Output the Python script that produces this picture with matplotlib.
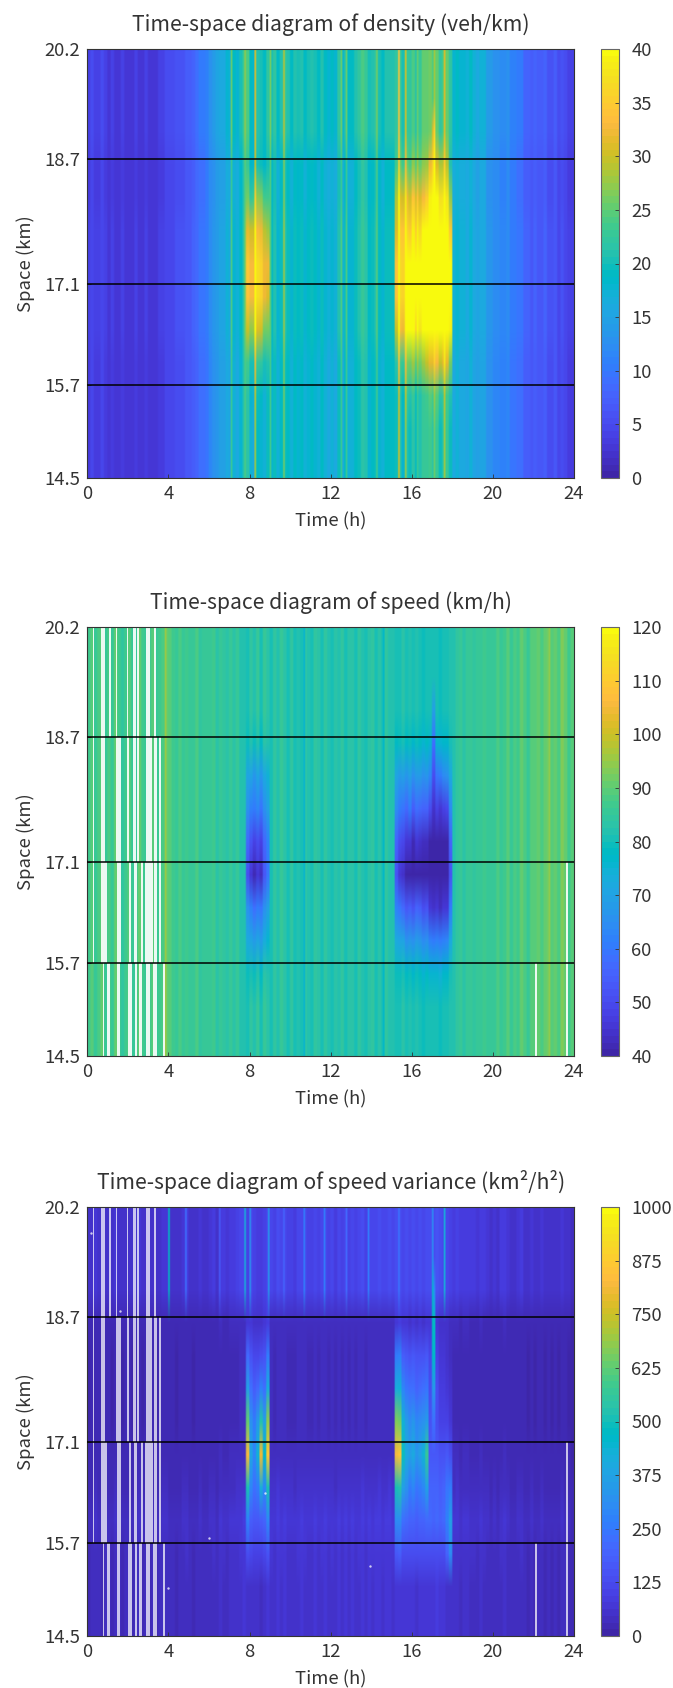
import numpy as np
import matplotlib
matplotlib.use("Agg")
import matplotlib.pyplot as plt
from matplotlib.colors import ListedColormap

plt.rcParams['font.family'] = ['Noto Sans CJK JP', 'DejaVu Sans']

PARULA = ListedColormap([
 (0.2422,0.1504,0.6603),(0.2504,0.1650,0.7076),(0.2578,0.1818,0.7511),(0.2647,0.1978,0.7952),
 (0.2706,0.2147,0.8364),(0.2751,0.2342,0.8710),(0.2783,0.2559,0.8991),(0.2803,0.2782,0.9221),
 (0.2813,0.3006,0.9414),(0.2810,0.3228,0.9579),(0.2795,0.3447,0.9717),(0.2760,0.3667,0.9829),
 (0.2699,0.3892,0.9906),(0.2602,0.4123,0.9952),(0.2440,0.4358,0.9988),(0.2206,0.4603,0.9973),
 (0.1963,0.4847,0.9892),(0.1834,0.5074,0.9798),(0.1786,0.5289,0.9682),(0.1764,0.5499,0.9520),
 (0.1687,0.5703,0.9359),(0.1540,0.5902,0.9218),(0.1460,0.6091,0.9079),(0.1380,0.6276,0.8973),
 (0.1248,0.6459,0.8883),(0.1113,0.6635,0.8763),(0.0952,0.6798,0.8598),(0.0689,0.6948,0.8394),
 (0.0297,0.7082,0.8163),(0.0036,0.7203,0.7917),(0.0067,0.7312,0.7660),(0.0433,0.7411,0.7394),
 (0.0964,0.7500,0.7120),(0.1408,0.7584,0.6842),(0.1717,0.7670,0.6554),(0.1938,0.7758,0.6251),
 (0.2161,0.7843,0.5923),(0.2470,0.7918,0.5567),(0.2906,0.7973,0.5188),(0.3406,0.8008,0.4789),
 (0.3909,0.8029,0.4354),(0.4456,0.8024,0.3909),(0.5044,0.7993,0.3480),(0.5616,0.7942,0.3045),
 (0.6174,0.7876,0.2612),(0.6720,0.7793,0.2227),(0.7242,0.7698,0.1910),(0.7738,0.7598,0.1646),
 (0.8203,0.7498,0.1535),(0.8634,0.7406,0.1596),(0.9035,0.7330,0.1774),(0.9393,0.7288,0.2100),
 (0.9728,0.7298,0.2394),(0.9956,0.7434,0.2371),(0.9970,0.7659,0.2199),(0.9952,0.7861,0.1991),
 (0.9892,0.8086,0.1817),(0.9786,0.8297,0.1644),(0.9676,0.8518,0.1487),(0.9610,0.8741,0.1347),
 (0.9597,0.8969,0.1153),(0.9628,0.9206,0.0954),(0.9691,0.9466,0.0696),(0.9763,0.9831,0.0538)])

# background per 10-minute column, hour by hour
density_bg = [
 4,5,4,4,5,4, 3,4,3,3,4,3, 3,3,4,3,3,4, 3,3,3,4,4,5, 5,5,6,6,6,7, 7,8,9,10,10,11,
 13,14,15,16,16,18, 17,19,18,20,23,24, 19,18,21,20,19,22, 20,22,19,21,22,21,
 19,21,20,21,19,20, 21,20,19,21,19,18, 19,18,22,18,21,19, 19,21,22,24,23,20,
 21,22,20,19,21,21, 21,22,23,20,23,22, 24,21,23,25,25,26, 24,25,22,24,25,22,
 18,19,18,18,17,19, 17,16,17,17,14,14, 13,13,12,12,13,11, 11,10,10,8,8,7,
 8,7,7,8,6,6, 7,5,6,5,4,4]
density_spikes = [(7.1,25),(7.75,27),(8.33,31),(9.0,26),(9.67,29),(12.5,25),(12.77,25),(14.3,26),
                  (15.35,34),(15.72,30),(16.3,25),(17.15,28),(17.6,31)]
speed_bg = [
 87,89,85,88,90,86, 88,85,90,87,84,87, 89,86,85,90,87,85, 87,89,85,87,88,90,
 89,87,85,88,86,87, 86,85,88,84,86,85, 85,87,83,85,84,83, 85,83,86,82,82,81,
 84,82,85,81,85,83, 81,84,82,85,83,81, 84,80,82,80,84,82, 81,84,83,80,84,82,
 81,83,82,84,81,83, 83,81,84,82,81,83, 84,81,83,81,84,82, 82,80,81,83,81,82,
 80,82,81,79,81,80, 80,81,79,81,80,82, 82,84,85,83,85,86, 84,86,85,87,85,85,
 86,88,85,87,89,86, 88,87,90,88,86,89, 89,91,88,90,92,89, 91,88,93,90,87,89]
speed_spikes = [(3.9,96),(10.7,76),(14.6,77),(22.8,94)]
variance_bg = [
 50,60,70,60,50,60, 60,50,70,60,50,60, 60,50,60,70,50,60, 50,60,50,60,70,70,
 60,60,50,60,70,80, 60,50,60,70,60,60, 70,80,60,90,80,70, 90,90,100,110,120,100,
 110,100,90,80,100,120, 110,100,130,110,120,100, 100,90,110,120,110,100, 100,120,100,110,120,100,
 110,90,120,100,120,100, 120,100,110,130,100,120, 110,120,130,110,120,130, 110,130,140,120,130,120,
 130,110,130,120,130,140, 140,150,130,120,110,100, 90,100,80,90,90,80, 80,70,90,80,70,60,
 70,60,80,90,70,60, 60,70,80,60,50,70, 50,60,70,50,60,50, 60,50,70,60,50,40]
variance_spikes_top = [(4.03,480),(4.87,220),(6.5,160),(7.75,420),(8.05,320),(8.97,330),(9.7,200),
                       (10.7,260),(11.7,260),(12.8,210),(13.85,260),(15.4,240),(17.0,300),(17.6,420)]

# share of the background seen at each space row, bottom (14.5) to top (20.2)
density_rows = [.90,.90,.90,.90,.95,.95,.95,.95,.92,.92,1,1,1]
speed_rows = [1,1,1,1,1,1,1,1,1,1,1,1,1]
variance_rows = [.55,.55,.6,.7,.5,.35,.3,.3,.3,.35,1,1,1]

# congestion, added at rows 2..10 (from 15.45 up to 19.25)
density_am = [
 [0,1,1,1,1,0,0],[2,3,4,4,4,3,1],[7,9,11,11,11,8,5],[11,15,16,17,17,14,10],
 [12,15,16,17,17,14,11],[9,12,13,13,13,11,7],[4,5,7,8,8,6,3],[1,1,1,1,1,1,0],[0,0,0,0,0,0,0]]
speed_am = [
 [-2,-3,-3,-3,-3,-2,-1],[-9,-13,-14,-14,-13,-12,-7],[-16,-22,-24,-24,-22,-20,-14],
 [-30,-38,-40,-40,-38,-32,-24],[-24,-32,-34,-34,-33,-28,-21],[-16,-22,-22,-22,-22,-20,-14],
 [-11,-14,-15,-15,-14,-13,-9],[-2,-2,-3,-3,-3,-2,-1],[0,0,0,0,0,0,0]]
variance_am = [
 [70,50,40,50,60,50,70],[200,110,90,100,120,120,200],[450,230,170,220,380,240,450],
 [780,340,260,400,780,420,820],[600,280,220,320,500,340,650],[330,190,150,190,250,190,380],
 [180,110,80,90,110,120,220],[30,30,20,20,20,30,40],[0,0,0,0,0,0,0]]

density_pm = [
 [0,0,1,2,1,1,0,0,0,1,1,2,2,2,1,1,1],
 [2,3,5,6,6,6,5,5,5,7,8,10,10,10,10,9,6],
 [9,11,13,18,19,18,16,16,18,20,23,24,23,23,24,23,18],
 [13,15,17,24,26,26,26,26,26,27,28,28,28,28,28,28,22],
 [13,15,17,19,21,22,21,21,21,22,25,26,26,26,27,27,21],
 [10,13,15,15,14,16,15,15,16,16,19,22,21,22,23,22,14],
 [8,10,12,11,10,12,11,10,10,12,15,19,17,17,16,15,7],
 [3,4,5,5,4,5,5,4,4,5,8,14,8,8,7,6,1],
 [0,0,0,0,0,0,0,0,0,0,0,7,0,0,0,0,0]]
speed_pm = [
 [-1,-2,-3,-3,-3,-3,-3,-3,-3,-3,-4,-5,-5,-5,-4,-3,-2],
 [-8,-11,-13,-15,-15,-15,-14,-14,-15,-16,-18,-19,-19,-19,-19,-17,-10],
 [-18,-22,-26,-28,-28,-28,-27,-27,-28,-29,-35,-36,-36,-36,-36,-35,-22],
 [-28,-35,-39,-42,-42,-42,-42,-42,-42,-42,-42,-42,-42,-42,-42,-41,-30],
 [-24,-30,-34,-35,-36,-38,-36,-37,-36,-38,-41,-42,-42,-42,-42,-41,-27],
 [-16,-21,-24,-24,-22,-26,-24,-24,-24,-26,-29,-36,-33,-33,-33,-31,-18],
 [-10,-13,-14,-14,-13,-14,-14,-13,-13,-14,-17,-30,-22,-18,-17,-15,-10],
 [-2,-2,-3,-3,-3,-3,-3,-3,-3,-3,-4,-22,-6,-4,-4,-3,-2],
 [0,0,0,0,0,0,0,0,0,0,0,-11,0,0,0,0,0]]
variance_pm = [
 [90,90,60,60,60,60,60,60,60,60,50,50,50,50,60,130,250],
 [210,210,150,120,110,110,100,100,110,120,110,100,100,110,130,200,300],
 [450,450,300,260,200,220,190,190,230,300,130,130,120,120,130,180,200],
 [780,800,450,350,320,350,300,320,380,520,120,120,110,100,110,120,100],
 [620,600,400,320,270,290,260,260,290,320,100,180,90,70,70,70,40],
 [380,380,250,210,190,190,170,170,190,200,90,300,80,50,50,40,20],
 [220,230,140,120,110,120,110,110,120,120,70,420,60,30,30,20,10],
 [20,30,30,30,20,20,20,20,20,20,20,420,20,10,10,10,0],
 [0,0,0,0,0,0,0,0,0,0,0,150,0,0,0,0,0]]

# missing data: (start hour, end hour) per road section
gaps_top = [(.26,.33),(.69,.86),(1.09,1.17),(1.40,1.48),(1.94,2.02),(2.24,2.39),(2.47,2.55),(2.90,3.08),(3.29,3.41)]
gaps_upper = [(.26,.33),(.69,.87),(1.05,1.09),(1.42,1.65),(1.98,2.04),(2.24,2.39),(2.47,2.57),(2.90,3.18),(3.29,3.46),(3.52,3.65)]
gaps_lower = [(.26,.33),(.69,.95),(1.45,1.65),(2.04,2.17),(2.30,2.47),(2.63,2.73),(2.86,3.23),(3.29,3.46),(3.52,3.65),(23.62,23.70)]
gaps_bottom = [(0,.04),(.76,.82),(.95,1.12),(1.45,1.61),(2.02,2.21),(2.37,2.44),(2.54,2.70),(2.90,3.09),(3.26,3.46),(3.72,3.82),(22.10,22.17),(23.62,23.70)]

speck_t = [0.19,1.59,8.76,5.99,13.95,3.96]
speck_s = [19.86,18.82,16.4,15.8,15.43,15.14]

x_ticks = [0,4,8,12,16,20,24]
s_labels = ['14.5','15.7','17.1','18.7','20.2']
s_pos = [14.5,15.74,17.08,18.74,20.2]
section_edges = [14.5,15.74,17.08,18.74,20.2]

W, H = 673, 1688
GREY = '#333333'
fig = plt.figure(figsize=(W/100, H/100), dpi=100, facecolor='white')

def build(bg, rows, am, pm, spikes, top_only=False):
    base = np.repeat(np.array(bg, float), 2)              # 5-minute columns
    m = np.outer(np.array(rows, float), base)
    for t, v in spikes:
        c = int(t*12)
        if top_only:
            m[10:, c] = v
        else:
            m[:, c] = np.array(rows, float)*v
    m[2:11, 94:108] += np.repeat(np.array(am, float), 2, axis=1)
    m[2:11, 182:216] += np.repeat(np.array(pm, float), 2, axis=1)
    return m

panels = [
 (49, 478, 'Time-space diagram of density (veh/km)',
  build(density_bg, density_rows, density_am, density_pm, density_spikes),
  0, 40, [0,5,10,15,20,25,30,35,40], None),
 (627, 1056, 'Time-space diagram of speed (km/h)',
  build(speed_bg, speed_rows, speed_am, speed_pm, speed_spikes),
  40, 120, [40,50,60,70,80,90,100,110,120], 0.9),
 (1207, 1636, 'Time-space diagram of speed variance (km²/h²)',
  build(variance_bg, variance_rows, variance_am, variance_pm, variance_spikes_top, top_only=True),
  0, 1000, [0,125,250,375,500,625,750,875,1000], 0.72),
]
sections = [(gaps_bottom,0),(gaps_lower,1),(gaps_upper,2),(gaps_top,3)]

for top, bottom, title, mat, vmin, vmax, cticks, gap_alpha in panels:
    ax = fig.add_axes([87.3/W, 1-bottom/H, (574-87.3)/W, (bottom-top)/H])
    im = ax.imshow(mat, origin='lower', aspect='auto', cmap=PARULA, vmin=vmin, vmax=vmax,
                   extent=(0,24,14.5,20.2), interpolation='bilinear')
    if gap_alpha is not None:
        for gaps, k in sections:
            for a, b in gaps:
                ax.fill_between([a,b], section_edges[k], section_edges[k+1], color='white',
                                alpha=gap_alpha, lw=0, zorder=2)
    if vmax == 1000:
        ax.scatter(speck_t, speck_s, s=3, color='white', alpha=.75, lw=0, zorder=3)
    for s in s_pos[1:-1]:
        ax.axhline(s, color='black', lw=1.1, zorder=4)
    ax.set_xlim(0,24); ax.set_ylim(14.5,20.2)
    ax.set_xticks(x_ticks); ax.set_yticks(s_pos); ax.set_yticklabels(s_labels)
    ax.tick_params(direction='in', length=3, width=.6, color=GREY, labelcolor=GREY, labelsize=13.3, pad=5)
    for sp in ax.spines.values():
        sp.set_color(GREY); sp.set_linewidth(.8)
    ax.set_xlabel('Time (h)', fontsize=13.3, color=GREY, labelpad=7)
    ax.set_ylabel('Space (km)', fontsize=13.3, color=GREY, labelpad=7)
    ax.set_title(title, fontsize=15.2, color=GREY, pad=13)
    cax = fig.add_axes([600.7/W, 1-bottom/H, 18/W, (bottom-top)/H])
    cb = fig.colorbar(im, cax=cax, ticks=cticks)
    cb.ax.tick_params(direction='in', length=3, width=.6, color=GREY, labelcolor=GREY, labelsize=13.3, pad=9)
    cb.outline.set_edgecolor('#666666'); cb.outline.set_linewidth(.8)

fig.savefig('out.png', dpi=100)
